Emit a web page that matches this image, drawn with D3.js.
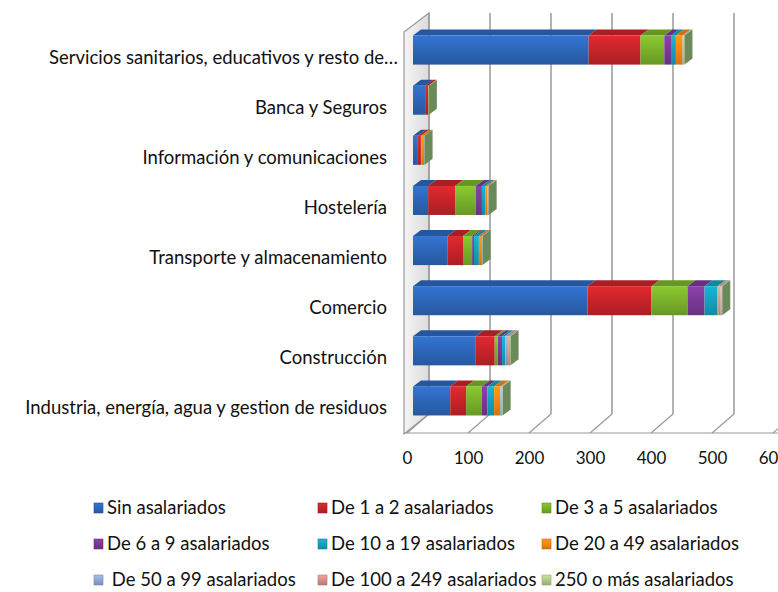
<!DOCTYPE html>
<html lang="es">
<head>
<meta charset="utf-8">
<script src="https://d3js.org/d3.v7.min.js"></script>
<style>
  body { margin: 0; background: #fff; }
  text { font-family: Lato, "Open Sans", sans-serif; fill: #111; }
</style>
</head>
<body>
<div id="chart"></div>
<script>
// categories, top to bottom
var categories = [
  "Servicios sanitarios, educativos y resto de\u2026",
  "Banca y Seguros",
  "Información y comunicaciones",
  "Hostelería",
  "Transporte y almacenamiento",
  "Comercio",
  "Construcción",
  "Industria, energía, agua y gestion de residuos"
];

var seriesNames = [
  "Sin asalariados", "De 1 a 2 asalariados", "De 3 a 5 asalariados",
  "De 6 a 9 asalariados", "De 10 a 19 asalariados", "De 20 a 49 asalariados",
  " De 50 a 99 asalariados", "De 100 a 249 asalariados", "250 o más asalariados"
];

// one array per series, same order as categories
var sinAsal   = [288, 20, 8, 25, 57, 286, 103, 61];
var de1a2     = [85, 5, 5, 44, 25, 105, 31, 26];
var de3a5     = [39, 0, 1, 34, 15, 59, 5, 26];
var de6a9     = [11, 0, 0, 10, 3, 28, 7, 9];
var de10a19   = [8, 0, 0, 6, 8, 21, 5, 11];
var de20a49   = [11, 0, 4, 3, 5, 2, 1, 10];
var de50a99   = [1, 0, 1, 1, 1, 3, 4, 2];
var de100a249 = [1, 0, 0, 1, 0, 2, 3, 1];
var de250     = [1, 1, 0, 0, 0, 1, 1, 1];

var xTicks = [0, 100, 200, 300, 400, 500, 600];

var colors = ["#2d67bb", "#c8242a", "#7ab32a", "#7a3a98", "#15a2c0",
              "#f7880f", "#93a9d6", "#d8908c", "#b3cd88"];
var endColor = "#6b8a5a";

var series = [sinAsal, de1a2, de3a5, de6a9, de10a19, de20a49, de50a99, de100a249, de250];

var W = 778, H = 592;
var DX = 22, DY = -19;        // depth of the 3D box
var barDx = 6, barDy = -7;    // bar front face offset from front plane
var bDx = 8, bDy = -6;        // bar thickness
var fontSize = "18.5px";

var x = d3.scaleLinear().domain([0, 600]).range([407, 773]);
var y = d3.scaleBand().domain(categories).range([32, 433])
  .paddingInner(0.42).paddingOuter(0.21);
var floorY = 433;

var svg = d3.select("#chart").append("svg")
  .attr("width", W).attr("height", H);

var defs = svg.append("defs");
colors.forEach(function(c, i) {
  var g = defs.append("linearGradient").attr("id", "g" + i)
    .attr("x1", 0).attr("y1", 0).attr("x2", 0).attr("y2", 1);
  g.append("stop").attr("offset", "0%").attr("stop-color", d3.color(c).brighter(0.35));
  g.append("stop").attr("offset", "45%").attr("stop-color", c);
  g.append("stop").attr("offset", "100%").attr("stop-color", d3.color(c).darker(0.45));
});
var wg = defs.append("linearGradient").attr("id", "wall")
  .attr("x1", 0).attr("y1", 0).attr("x2", 1).attr("y2", 0);
wg.append("stop").attr("offset", "0%").attr("stop-color", "#f4f4f4");
wg.append("stop").attr("offset", "100%").attr("stop-color", "#dcdcdc");

// left wall
svg.append("polygon")
  .attr("points", [[404, floorY + 1], [404, 32], [x(0) + DX, 32 + DY], [x(0) + DX, floorY + DY]].join(" "))
  .attr("fill", "url(#wall)").attr("stroke", "#9a9a9a").attr("stroke-width", 1.2);

// gridlines on back wall and floor
xTicks.forEach(function(v) {
  svg.append("line")
    .attr("x1", x(v) + DX).attr("x2", x(v) + DX)
    .attr("y1", 32 + DY).attr("y2", floorY + DY)
    .attr("stroke", "#9a9a9a").attr("stroke-width", 1.5);
  svg.append("line")
    .attr("x1", x(v) + DX).attr("y1", floorY + DY)
    .attr("x2", x(v)).attr("y2", floorY)
    .attr("stroke", "#9a9a9a").attr("stroke-width", 1.2);
});
svg.append("line")
  .attr("x1", 404).attr("x2", W).attr("y1", floorY).attr("y2", floorY)
  .attr("stroke", "#9a9a9a").attr("stroke-width", 1.2);

// stacked 3D bars
categories.forEach(function(cat, ci) {
  var top = y(cat) + barDy, h = y.bandwidth();
  var cum = 0;
  var g = svg.append("g");
  series.forEach(function(s, si) {
    var v = s[ci];
    if (v <= 0) return;
    var x0 = x(cum) + barDx, x1 = x(cum + v) + barDx;
    cum += v;
    g.append("polygon")
      .attr("points", [[x0, top], [x0 + bDx, top + bDy], [x1 + bDx, top + bDy], [x1, top]].join(" "))
      .attr("fill", d3.color(colors[si]).darker(0.5));
    g.append("rect")
      .attr("x", x0).attr("y", top).attr("width", x1 - x0).attr("height", h)
      .attr("fill", "url(#g" + si + ")");
  });
  var xe = x(cum) + barDx;
  g.append("polygon")
    .attr("points", [[xe, top], [xe + bDx, top + bDy], [xe + bDx, top + h + bDy], [xe, top + h]].join(" "))
    .attr("fill", endColor);
});

// category labels
svg.append("g").selectAll("text").data(categories).join("text")
  .attr("x", function(d, i) { return i === 0 ? 398 : 387; })
  .attr("y", function(d) { return y(d) + y.bandwidth() / 2; })
  .attr("dy", "0.35em")
  .attr("text-anchor", "end")
  .style("font-size", fontSize)
  .text(function(d) { return d; });

// x axis
var axis = svg.append("g")
  .attr("transform", "translate(0," + (floorY + 16) + ")")
  .call(d3.axisBottom(x).tickValues(xTicks).tickSize(0).tickFormat(d3.format("d")));
axis.select(".domain").remove();
axis.selectAll("text").style("font-size", "17px").style("font-family", "Lato, 'Open Sans', sans-serif").attr("fill", "#111");

// legend
var legend = svg.append("g");
seriesNames.forEach(function(name, i) {
  var col = i % 3, row = Math.floor(i / 3);
  var lx = 94 + col * 224, ly = 508 + row * 36;
  legend.append("rect")
    .attr("x", lx).attr("y", ly - 5).attr("width", 9).attr("height", 10)
    .attr("fill", "url(#g" + i + ")").attr("stroke", d3.color(colors[i]).darker(0.6)).attr("stroke-width", 0.6);
  legend.append("text")
    .attr("x", lx + 13).attr("y", ly).attr("dy", "0.35em")
    .style("font-size", fontSize).style("white-space", "pre")
    .text(name);
});
</script>
</body>
</html>
